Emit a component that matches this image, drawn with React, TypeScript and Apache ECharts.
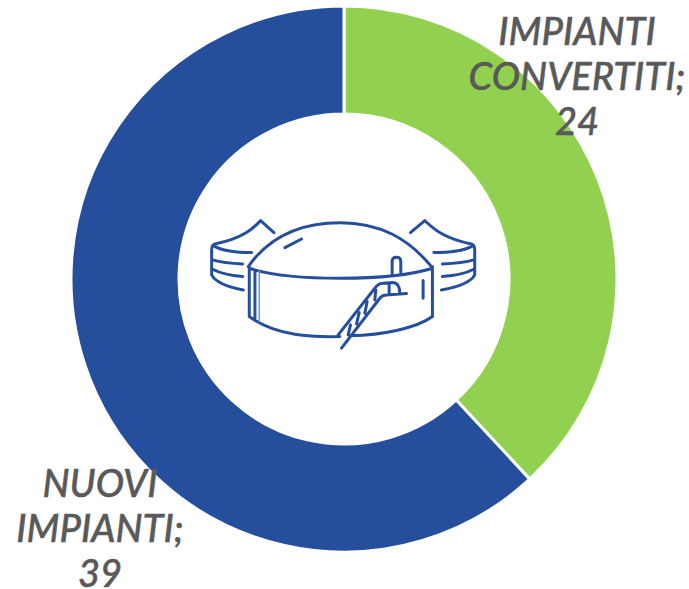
import React, { useEffect, useRef } from "react";
import * as echarts from "echarts";

const categories = ["IMPIANTI\nCONVERTITI", "NUOVI\nIMPIANTI"];
const values = [24, 39];

const iconPath = [
  "M175 200 C245 100 350 68 450 68 C570 68 655 115 725 200",
  "M178 205 C300 245 600 245 728 205",
  "M178 200 V350 M728 200 V350",
  "M178 350 C260 410 370 412 450 410 M480 408 C580 405 680 385 728 350",
  "M195 212 V355",
  "M700 242 V295",
  "M285 143 L335 117",
  "M607 222 V185 Q607 172 620 172 Q633 172 633 185 V218",
  "M455 445 L570 295 Q577 285 590 285 L650 281",
  "M445 405 L555 265 Q565 250 580 250 L610 248 Q630 250 630 280",
  "M482 375 L475 405 M508 338 L500 372 M532 305 L525 340 M558 270 L555 300 M598 250 V282",
  "M252 98 L212 62 C190 85 160 115 75 132 Q65 135 65 150 V225 Q80 255 160 270",
  "M75 140 Q110 158 185 158 M68 180 Q100 190 158 192 M68 208 Q100 225 158 230",
  "M662 98 L705 62 C730 85 760 115 845 132 Q855 135 855 150 V225 Q840 255 755 270",
  "M845 140 Q810 158 732 158 M852 180 Q820 190 758 192 M852 208 Q820 225 758 230",
].join(" ");
const iconThinPath = "M208 215 V365";

echarts.graphic.registerShape("plantIcon", echarts.graphic.extendPath(iconPath as any, {}) as any);
echarts.graphic.registerShape("plantIconThin", echarts.graphic.extendPath(iconThinPath as any, {}) as any);

export default function App() {
  const ref = useRef<HTMLDivElement>(null);
  useEffect(() => {
    const chart = echarts.init(ref.current!, undefined, { renderer: "svg" });
    const labelPos = [
      { x: 577, y: 75 },
      { x: 100, y: 527 },
    ];
    chart.setOption({
      animation: false,
      backgroundColor: "#ffffff",
      series: [
        {
          type: "pie",
          center: [344, 279],
          radius: [165, 273],
          startAngle: 90,
          clockwise: true,
          silent: true,
          itemStyle: { borderColor: "#ffffff", borderWidth: 3 },
          color: ["#92D050", "#254F9C"],
          data: categories.map((name, i) => ({ name, value: values[i] })),
          labelLine: { show: false },
          label: {
            show: true,
            formatter: "{b};\n{c}",
            fontFamily: "Lato",
            fontStyle: "italic",
            fontWeight: 500,
            fontSize: 38,
            lineHeight: 45,
            color: "#595959",
            textBorderColor: "#595959",
            textBorderWidth: 0.5,
            align: "center",
            overflow: "none",
          },
          labelLayout: (p: any) => ({
            x: labelPos[p.dataIndex].x,
            y: labelPos[p.dataIndex].y,
            align: "center",
            verticalAlign: "middle",
          }),
        },
      ],
      graphic: [
        {
          type: "plantIcon",
          x: 190,
          y: 200,
          scaleX: 1 / 3,
          scaleY: 1 / 3,
          silent: true,
          style: { fill: "none", stroke: "#254F9C", lineWidth: 9, lineCap: "round", lineJoin: "round" },
        },
        {
          type: "plantIconThin",
          x: 190,
          y: 200,
          scaleX: 1 / 3,
          scaleY: 1 / 3,
          silent: true,
          style: { fill: "none", stroke: "#7F9BCB", lineWidth: 5, lineCap: "round" },
        },
      ],
    });
    return () => chart.dispose();
  }, []);
  return <div ref={ref} style={{ position: "fixed", left: 0, top: 0, width: 689, height: 589 }} />;
}
